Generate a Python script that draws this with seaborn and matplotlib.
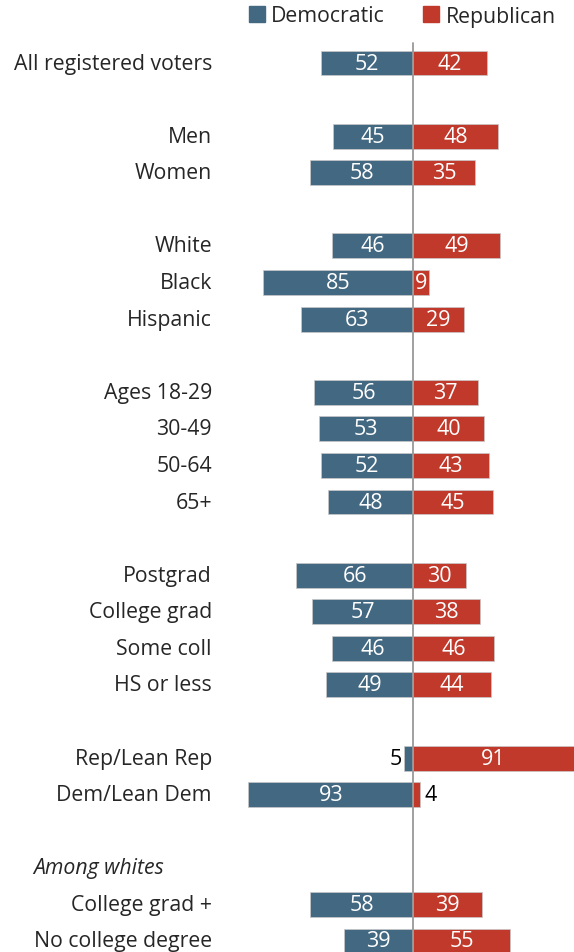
import matplotlib
matplotlib.use("Agg")
import matplotlib.pyplot as plt
import seaborn as sns
import pandas as pd
from matplotlib.patches import Patch
from matplotlib.transforms import blended_transform_factory

# Data
groups = ["All registered voters", "Men", "Women", "White", "Black", "Hispanic",
          "Ages 18-29", "30-49", "50-64", "65+",
          "Postgrad", "College grad", "Some coll", "HS or less",
          "Rep/Lean Rep", "Dem/Lean Dem",
          "College grad +", "No college degree"]
rows = [0, 2, 3, 5, 6, 7, 9, 10, 11, 12, 14, 15, 16, 17, 19, 20, 23, 24]
dem = [52, 45, 58, 46, 85, 63, 56, 53, 52, 48, 66, 57, 46, 49, 5, 93, 58, 39]
rep = [42, 48, 35, 49, 9, 29, 37, 40, 43, 45, 30, 38, 46, 44, 91, 4, 39, 55]

blue = "#436882"
red = "#c0392b"

df = pd.concat([
    pd.DataFrame({"pos": rows, "value": [-v for v in dem], "party": "Democratic"}),
    pd.DataFrame({"pos": rows, "value": rep, "party": "Republican"}),
])

sns.set_style("white")
plt.rcParams["font.family"] = ["Open Sans", "DejaVu Sans"]

fig = plt.figure(figsize=(5.74, 9.53), dpi=100)
ax = fig.add_axes([0, 0, 1, 1])

sns.barplot(data=df, x="value", y="pos", hue="party", orient="h",
            native_scale=True, dodge=False, width=0.68, saturation=1,
            palette={"Democratic": blue, "Republican": red},
            edgecolor="#c8c8c8", linewidth=0.5, legend=False, ax=ax)

px = 1.77
ax.set_xlim(-413 / px, 161 / px)
ax.set_ylim(24 + 11 / 36.58, -64 / 36.58)
ax.axis("off")

ax.plot([0, 0], [-0.55, 24.5], color="#999999", lw=1.3, zorder=5)

# value labels
vfs = 15.5
for r, d, p in zip(rows, dem, rep):
    if d >= 8:
        ax.text(-d / 2, r, str(d), ha="center", va="center", color="white", fontsize=vfs)
    else:
        ax.text(-d - 1.5, r, str(d), ha="right", va="center", color="black", fontsize=vfs)
    if p >= 8:
        ax.text(p / 2, r, str(p), ha="center", va="center", color="white", fontsize=vfs)
    else:
        ax.text(p + 2.5, r, str(p), ha="left", va="center", color="black", fontsize=vfs)

# group labels
lfs = 15.3
tr = blended_transform_factory(fig.transFigure, ax.transData)
for r, g in zip(rows, groups):
    ax.text(212 / 574, r, g, transform=tr, ha="right", va="center", fontsize=lfs)
ax.text(33 / 574, 22, "Among whites", transform=tr, ha="left", va="center",
        fontsize=lfs, style="italic")

handles = [Patch(color=blue), Patch(color=red)]
fig.legend(handles, ["Democratic", "Republican"], loc="center left",
           bbox_to_anchor=(249 / 574, 1 - 17 / 953), ncol=2, frameon=False,
           fontsize=lfs, handlelength=0.75, handleheight=0.75, handletextpad=0.3,
           columnspacing=1.8, borderpad=0, borderaxespad=0)

fig.savefig("out.png", dpi=100)
